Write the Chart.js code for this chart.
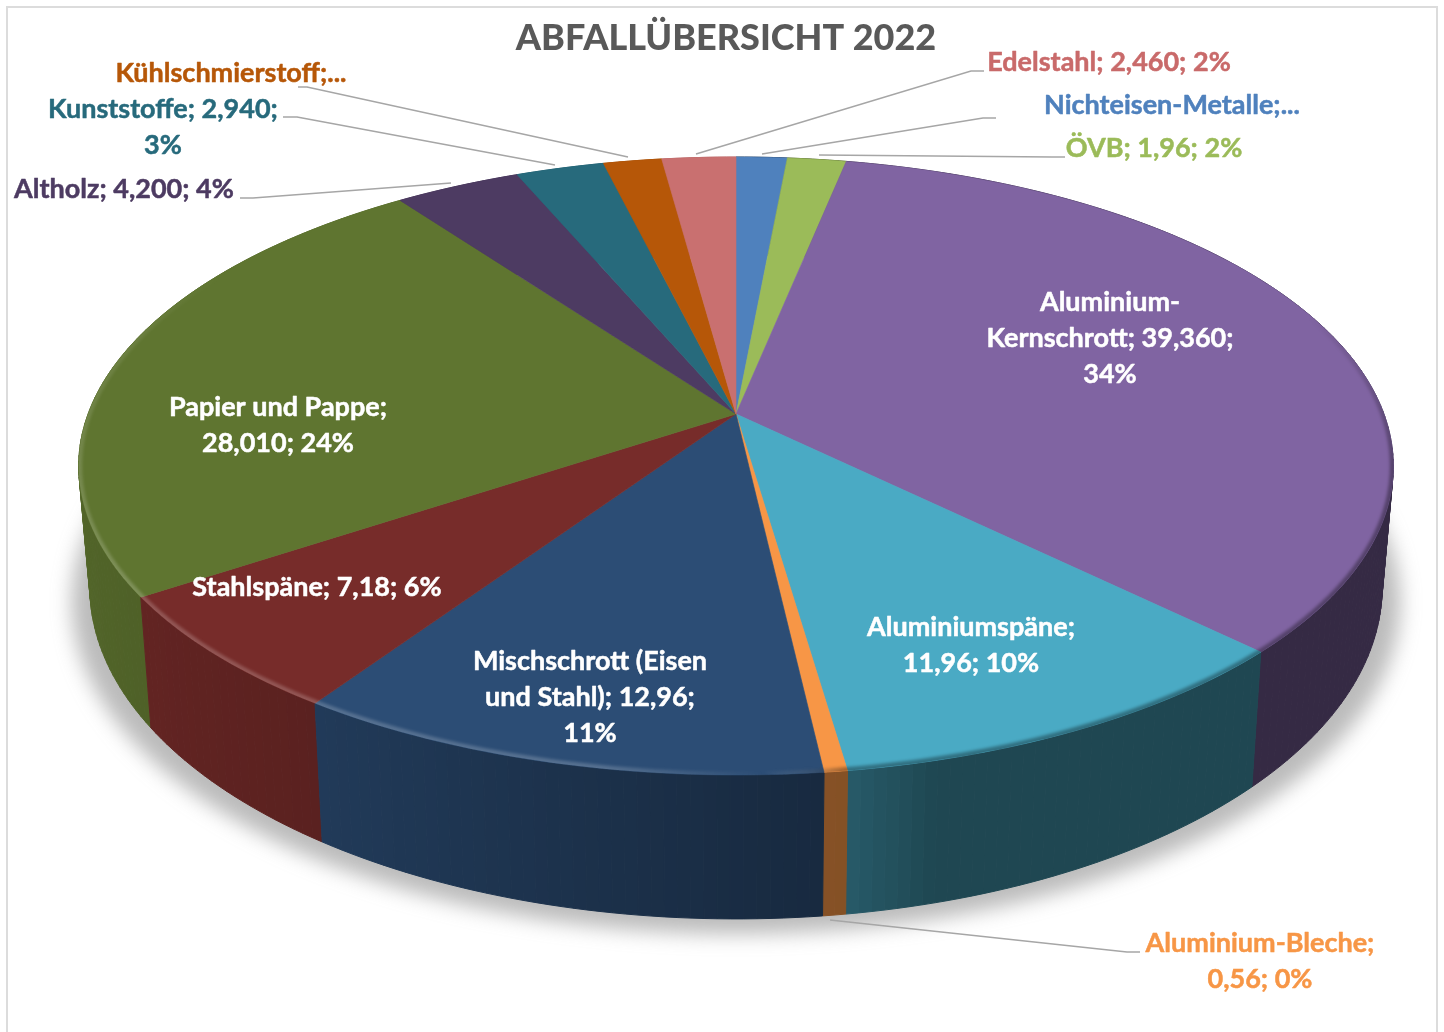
<!DOCTYPE html>
<html><head><meta charset="utf-8">
<style>html,body{margin:0;padding:0;background:#fff}canvas{display:block}</style>
<script src="https://cdn.jsdelivr.net/npm/chart.js@4"></script>
</head><body>
<canvas id="c" width="1444" height="1032"></canvas>
<script>
const categories = ["Nichteisen-Metalle","ÖVB","Aluminium-Kernschrott","Aluminiumspäne","Aluminium-Bleche","Mischschrott (Eisen und Stahl)","Stahlspäne","Papier und Pappe","Altholz","Kunststoffe","Kühlschmierstoff","Edelstahl"];
const values = [1.7,1.96,39.36,11.96,0.56,12.96,7.18,28.01,4.2,2.94,1.95,2.46];
const colors = ["#4f81bd","#9bbb59","#8064a2","#4aaac4","#f79646","#2c4d75","#772c2a","#5f7530","#4d3b62","#276a7c","#b65708","#c97070"];
const labelColors = ["#4f81bd","#9bbb59","#ffffff","#ffffff","#f79646","#ffffff","#ffffff","#ffffff","#4d3b62","#276a7c","#b65708","#c96a6a"];
const labelLines = [
 ["Nichteisen-Metalle;..."],["ÖVB; 1,96; 2%"],["Aluminium-","Kernschrott; 39,360;","34%"],["Aluminiumspäne;","11,96; 10%"],
 ["Aluminium-Bleche;","0,56; 0%"],["Mischschrott (Eisen","und Stahl); 12,96;","11%"],["Stahlspäne; 7,18; 6%"],["Papier und Pappe;","28,010; 24%"],
 ["Altholz; 4,200; 4%"],["Kunststoffe; 2,940;","3%"],["Kühlschmierstoff;..."],["Edelstahl; 2,460; 2%"]];
const labelAnchors = [[1172,105],[1154,148],[1110,302],[971,627],[1260,943],[590,661],[317,587],[278,407],[124,189],[163,109],[231,73],[1109,62]];
const leaders = [
 [[996,118],[983,118],[762,154]],[[1065,157],[1052,157],[819,155]],null,null,
 [[1140,952],[1127,952],[830,920]],null,null,null,
 [[240,198],[253,198],[451,183]],[[283,117],[297,117],[555,165]],[[298,87],[307,87],[628,157]],[[984,71],[971,71],[696,154]]];
const titleText = "ABFALLÜBERSICHT 2022";

const APEX_DX = 10, PERSP = 0.1683, ASPECT = 2.158, DEPTH = 0.456, BOTTOM_X = 0.983, BOTTOM_Y = 1.074;
function topPt(a, g, f){
  f = f === undefined ? 1 : f;
  const w = 1/(1-PERSP*Math.sin(a)), A = g.R*(1+PERSP);
  return [g.x + f*A*ASPECT*Math.cos(a)*w, g.y + f*A*Math.sin(a)*w];
}
function botPt(a, g){
  const p = topPt(a, g);
  return [g.x + BOTTOM_X*(p[0]-g.x), g.y + DEPTH*g.R + BOTTOM_Y*(p[1]-g.y)];
}
function shadeAt(t){ // t = degrees clockwise from top
  const k=[[0,.42],[165,.42],[172,.54],[213,.76],[236,.83],[270,.9],[360,.9]];
  for(let i=1;i<k.length;i++) if(t<=k[i][0]){const q=(t-k[i-1][0])/(k[i][0]-k[i-1][0]);return k[i-1][1]+q*(k[i][1]-k[i-1][1]);}
  return .9;
}
function mul(hex,f){const n=parseInt(hex.slice(1),16);return `rgb(${((n>>16&255)*f)|0},${((n>>8&255)*f)|0},${((n&255)*f)|0})`;}
const deg = a => ((a+Math.PI/2)*180/Math.PI+720)%360;
const rimStops = [[0,'rgba(0,0,0,0)'],[70,'rgba(0,0,0,0)'],[100,'rgba(0,0,0,.34)'],[172,'rgba(0,0,0,.34)'],[178,'rgba(255,255,255,0)'],[190,'rgba(255,255,255,.2)'],[240,'rgba(255,255,255,.2)'],[285,'rgba(255,255,255,.08)'],[300,'rgba(255,255,255,0)'],[360,'rgba(255,255,255,0)']];

const pie3d = {
  id:'pie3d',
  beforeDraw(chart){
    const c=chart.ctx; c.save(); c.strokeStyle='#dcdcdc'; c.lineWidth=2;
    c.beginPath(); c.moveTo(7,1032); c.lineTo(7,7); c.lineTo(1437,7); c.lineTo(1437,1032); c.stroke(); c.restore();
  },
  beforeDatasetDraw(){ return false; },
  afterDatasetsDraw(chart){
    const c=chart.ctx, arcs=chart.getDatasetMeta(0).data;
    const g={x:arcs[0].x+APEX_DX,y:arcs[0].y,R:arcs[0].outerRadius};
    c.save();
    // soft shadow
    c.save(); c.filter='blur(10px)'; c.fillStyle='rgba(120,120,120,.5)'; c.beginPath();
    for(let i=0;i<=180;i++){const p=botPt(i*Math.PI/90,g);const x=g.x+1.028*(p[0]-g.x),y=p[1]+15; i?c.lineTo(x,y):c.moveTo(x,y);}
    c.closePath(); c.fill(); c.restore();
    // wall segments, back to front
    const segs=[];
    arcs.forEach((el,i)=>{
      const n=Math.max(2,Math.ceil((el.endAngle-el.startAngle)/(Math.PI/180)));
      for(let s=0;s<n;s++){
        const a0=el.startAngle+(el.endAngle-el.startAngle)*s/n, a1=el.startAngle+(el.endAngle-el.startAngle)*(s+1)/n;
        segs.push({a0,a1,i});
      }
    });
    segs.sort((p,q)=>Math.sin((p.a0+p.a1)/2)-Math.sin((q.a0+q.a1)/2));
    segs.forEach(s=>{
      const col=mul(colors[s.i],shadeAt(deg((s.a0+s.a1)/2)));
      const p=[topPt(s.a0,g),topPt(s.a1,g),botPt(s.a1,g),botPt(s.a0,g)];
      c.fillStyle=col; c.strokeStyle=col; c.lineWidth=1; c.beginPath();
      p.forEach((q,j)=>j?c.lineTo(q[0],q[1]):c.moveTo(q[0],q[1])); c.closePath(); c.fill(); c.stroke();
    });
    // top faces
    arcs.forEach((el,i)=>{
      c.fillStyle=colors[i]; c.strokeStyle=colors[i]; c.lineWidth=.6; c.beginPath(); c.moveTo(g.x,g.y);
      const n=Math.ceil((el.endAngle-el.startAngle)/(Math.PI/180))+1;
      for(let s=0;s<=n;s++){const p=topPt(el.startAngle+(el.endAngle-el.startAngle)*s/n,g);c.lineTo(p[0],p[1]);}
      c.closePath(); c.fill(); c.stroke();
    });
    // soft bevel on the rim of the top face
    c.save();
    const ringPath=()=>{c.beginPath();for(let i=0;i<=360;i++){const p=topPt(i*Math.PI/180,g);i?c.lineTo(p[0],p[1]):c.moveTo(p[0],p[1]);}c.closePath();};
    ringPath(); c.clip();
    const grad=c.createConicGradient(-Math.PI/2,g.x,g.y);
    rimStops.forEach(s=>{
      const p=topPt((s[0]-90)*Math.PI/180,g);
      let f=(Math.atan2(p[1]-g.y,p[0]-g.x)+Math.PI/2)/(2*Math.PI); f=(f+1)%1;
      if(s[0]===360) f=1;
      grad.addColorStop(f,s[1]);
    });
    c.filter='blur(1.5px)'; c.strokeStyle=grad; c.lineWidth=7;
    ringPath(); c.stroke();
    c.restore();
    // leader lines
    c.strokeStyle='#a6a6a6'; c.lineWidth=1.5;
    leaders.forEach(l=>{ if(!l)return; c.beginPath(); l.forEach((p,j)=>j?c.lineTo(p[0],p[1]):c.moveTo(p[0],p[1])); c.stroke(); });
    // data labels
    c.font='bold 27px Lato'; c.textAlign='center'; c.textBaseline='middle'; c.lineJoin='round'; c.lineWidth=.5;
    labelLines.forEach((ls,i)=>{
      c.fillStyle=labelColors[i]; c.strokeStyle=labelColors[i];
      ls.forEach((t,j)=>{const y=labelAnchors[i][1]+36*j; c.fillText(t,labelAnchors[i][0],y); c.strokeText(t,labelAnchors[i][0],y);});
    });
    c.restore();
  }
};
Chart.register(pie3d);
new Chart(document.getElementById('c'),{
  type:'pie',
  data:{labels:categories,datasets:[{data:values,backgroundColor:colors,borderWidth:0}]},
  options:{
    responsive:false,animation:false,
    layout:{padding:{left:469,right:461,top:0,bottom:361}},
    plugins:{
      legend:{display:false},tooltip:{enabled:false},
      title:{display:true,text:titleText,color:'#595959',font:{family:'Lato',size:36,weight:900,lineHeight:1.2},padding:{top:17,bottom:96.8}}
    }
  }
});
</script>
</body></html>
